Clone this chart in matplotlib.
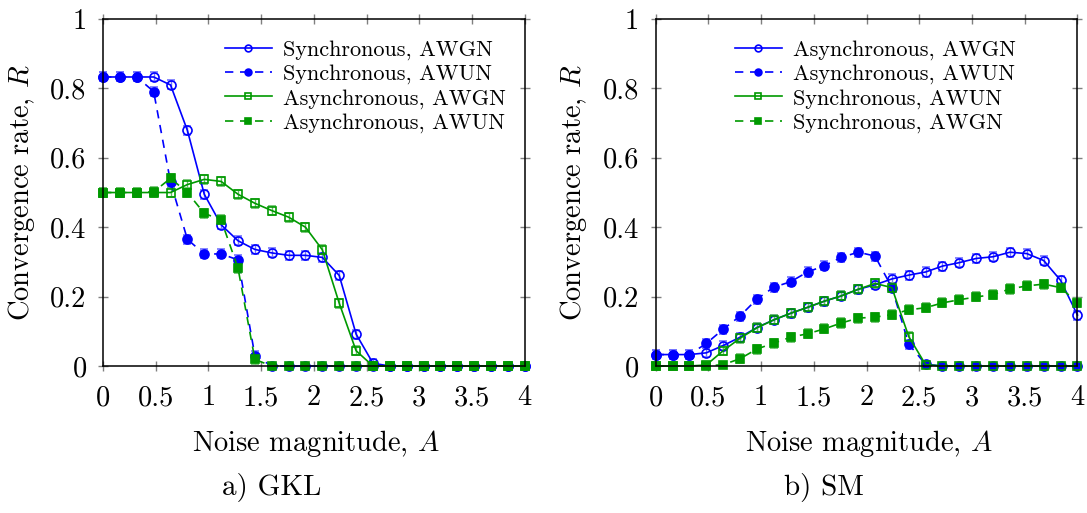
import numpy as np
import matplotlib
matplotlib.use('Agg')
import matplotlib.pyplot as plt

plt.rcParams['font.family'] = 'serif'
plt.rcParams['font.serif'] = ['cmr10', 'DejaVu Serif']
plt.rcParams['mathtext.fontset'] = 'cm'
plt.rcParams['axes.unicode_minus'] = False

# noise magnitude A (26 samples, step 0.16)
A = [0.0, 0.16, 0.32, 0.48, 0.64, 0.8, 0.96, 1.12, 1.28, 1.44, 1.6, 1.76, 1.92,
     2.08, 2.24, 2.4, 2.56, 2.72, 2.88, 3.04, 3.2, 3.36, 3.52, 3.68, 3.84, 4.0]

# a) GKL
gkl_sync_awgn = [0.833, 0.833, 0.833, 0.833, 0.81, 0.679, 0.495, 0.407, 0.361, 0.336,
                 0.326, 0.319, 0.319, 0.313, 0.261, 0.092, 0.008, 0, 0, 0, 0, 0, 0, 0, 0, 0]
gkl_sync_awun = [0.833, 0.833, 0.833, 0.791, 0.53, 0.365, 0.323, 0.323, 0.306, 0.03,
                 0, 0, 0, 0, 0, 0, 0, 0, 0, 0, 0, 0, 0, 0, 0, 0]
gkl_async_awgn = [0.5, 0.5, 0.5, 0.5, 0.5, 0.523, 0.538, 0.532, 0.495, 0.469, 0.448,
                  0.429, 0.4, 0.335, 0.181, 0.044, 0, 0, 0, 0, 0, 0, 0, 0, 0, 0]
gkl_async_awun = [0.5, 0.5, 0.5, 0.502, 0.541, 0.5, 0.44, 0.421, 0.282, 0.019,
                  0, 0, 0, 0, 0, 0, 0, 0, 0, 0, 0, 0, 0, 0, 0, 0]

# b) SM
sm_async_awgn = [0.033, 0.033, 0.033, 0.038, 0.059, 0.083, 0.111, 0.133, 0.152, 0.169,
                 0.187, 0.202, 0.221, 0.234, 0.251, 0.262, 0.271, 0.288, 0.298, 0.31,
                 0.315, 0.328, 0.324, 0.304, 0.247, 0.147]
sm_async_awun = [0.033, 0.033, 0.033, 0.065, 0.106, 0.144, 0.193, 0.227, 0.243, 0.271,
                 0.289, 0.313, 0.328, 0.317, 0.226, 0.063, 0.005, 0, 0, 0, 0, 0, 0, 0, 0, 0]
sm_sync_awun = [0, 0, 0, 0.003, 0.044, 0.08, 0.11, 0.133, 0.152, 0.169, 0.187, 0.202,
                0.221, 0.238, 0.226, 0.085, 0.004, 0, 0, 0, 0, 0, 0, 0, 0, 0]
sm_sync_awgn = [0, 0, 0, 0, 0.004, 0.021, 0.049, 0.066, 0.083, 0.093, 0.107, 0.124,
                0.138, 0.141, 0.148, 0.162, 0.168, 0.182, 0.191, 0.199, 0.206, 0.222,
                0.231, 0.236, 0.226, 0.182]

ERR = 0.013

BLUE = (0, 0, 1)
GREEN = (0, 0.6, 0)
LBLUE = (0.45, 0.45, 1)
LGREEN = (0.4, 0.75, 0.4)

W, H = 1087, 513
fig = plt.figure(figsize=(W / 100, H / 100), dpi=100)
ax1 = fig.add_axes([0.0948, 0.2865, 0.388, 0.6764])
ax2 = fig.add_axes([0.6032, 0.2865, 0.388, 0.6764])


def draw(ax, y, color, ecolor, ls, marker, filled, label):
    y = np.array(y)
    err = np.where(y > 0.005, ERR, 0.0)
    fc = color if filled else 'none'
    ms = 6.5 if marker == 'o' else 6
    line = ax.errorbar(A, y, yerr=err, color=color, ecolor=ecolor, ls=ls, lw=1.2,
                       marker=marker, ms=ms, mfc=fc, mec=color, mew=1.2,
                       capsize=3, elinewidth=1, capthick=1, label=label,
                       dashes=(5, 4) if ls == '--' else (None, None))
    for art in line.lines[0:1] + tuple(line.lines[1]) + tuple(line.lines[2]):
        art.set_clip_on(False)
    return line


def style(ax, sub):
    ax.set_xlim(0, 4)
    ax.set_ylim(0, 1)
    ax.set_xticks([0, 0.5, 1, 1.5, 2, 2.5, 3, 3.5, 4])
    ax.set_xticklabels(['0', '0.5', '1', '1.5', '2', '2.5', '3', '3.5', '4'])
    ax.set_yticks([0, 0.2, 0.4, 0.6, 0.8, 1])
    ax.set_yticklabels(['0', '0.2', '0.4', '0.6', '0.8', '1'])
    ax.tick_params(direction='inout', length=7, width=1, color='0.5',
                   top=True, right=True, labelsize=20.5)
    ax.tick_params(axis='y', pad=8.3)
    ax.tick_params(axis='x', pad=8)
    for s in ax.spines.values():
        s.set_linewidth(1.1)
    ax.set_xlabel('Noise magnitude, $A$', fontsize=20.5)
    ax.xaxis.set_label_coords(0.505, (366 - 443) / 347)
    ax.xaxis.label.set_va('center')
    ax.set_ylabel('Convergence rate, $R$', fontsize=20.5)
    ax.yaxis.set_label_coords(-0.194, 0.5)
    ax.yaxis.label.set_va('center')
    ax.text(0.40, (366 - 487) / 347, sub, transform=ax.transAxes, ha='center',
            va='center', fontsize=21)


draw(ax1, gkl_sync_awgn, BLUE, LBLUE, '-', 'o', False, 'Synchronous, AWGN')
draw(ax1, gkl_sync_awun, BLUE, LBLUE, '--', 'o', True, 'Synchronous, AWUN')
draw(ax1, gkl_async_awgn, GREEN, LGREEN, '-', 's', False, 'Asynchronous, AWGN')
draw(ax1, gkl_async_awun, GREEN, LGREEN, '--', 's', True, 'Asynchronous, AWUN')

draw(ax2, sm_async_awgn, BLUE, LBLUE, '-', 'o', False, 'Asynchronous, AWGN')
draw(ax2, sm_async_awun, BLUE, LBLUE, '--', 'o', True, 'Asynchronous, AWUN')
draw(ax2, sm_sync_awun, GREEN, LGREEN, '-', 's', False, 'Synchronous, AWUN')
draw(ax2, sm_sync_awgn, GREEN, LGREEN, '--', 's', True, 'Synchronous, AWGN')

for ax, x0 in [(ax1, 0.289), (ax2, 0.188)]:
    h, l = ax.get_legend_handles_labels()
    h = [hh[0] for hh in h]
    ax.legend(h, l, loc='upper left', bbox_to_anchor=(x0, 0.94), frameon=False,
              fontsize=16, handlelength=2.1, handletextpad=0.5, labelspacing=0.2,
              borderpad=0, borderaxespad=0, markerscale=0.75)

style(ax1, 'a) GKL')
style(ax2, 'b) SM')

# nudge x tick labels so their centre sits ~398 px from the top
fig.canvas.draw()
r = fig.canvas.get_renderer()
bb = ax1.get_xticklabels()[2].get_window_extent(r)
cy = H - (bb.y0 + bb.y1) / 2
shift = (398 - cy) * 72 / 100
for ax in (ax1, ax2):
    ax.tick_params(axis='x', pad=8 + shift)

fig.savefig('out.png', dpi=100)
